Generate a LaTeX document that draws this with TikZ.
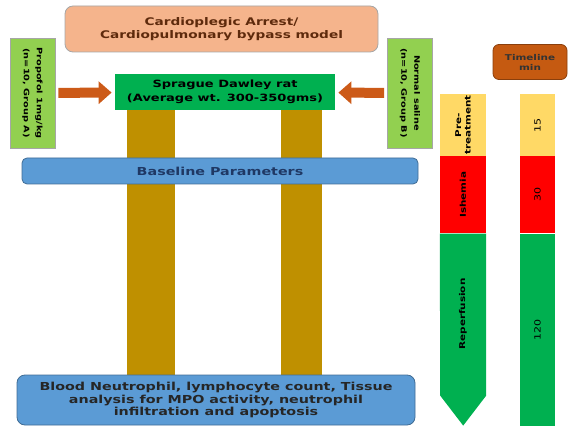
\documentclass[tikz,border=0pt]{standalone}
\usepackage{fontspec}
\setmainfont{DejaVu Sans}[FakeStretch=1.3]
\usetikzlibrary{positioning, arrows.meta}
\definecolor{peach}{HTML}{F5B48C}
\definecolor{brownText}{HTML}{5E2A0C}
\definecolor{lightGreen}{HTML}{92D050}
\definecolor{ratGreen}{HTML}{00B050}
\definecolor{arrowOrange}{HTML}{CC5A18}
\definecolor{pillarGold}{HTML}{BF9000}
\definecolor{paramBlue}{HTML}{5B9BD5}
\definecolor{navyText}{HTML}{1F3864}
\definecolor{preYellow}{HTML}{FFD966}
\definecolor{ischRed}{HTML}{FF0000}
\definecolor{tlOrange}{HTML}{C55A11}

\begin{document}
\begin{tikzpicture}[x=1pt, y=-1pt,
	box/.style={draw=gray!70, line width=0.8pt, align=center, inner sep=2pt,
		font=\bfseries\fontsize{10.5}{12.5}\selectfont},
	sidebox/.style={box, fill=lightGreen, rotate=-90, minimum width=110pt, minimum height=45pt,
		font=\bfseries\fontsize{7.5}{13}\selectfont},
	fatarrow/.style={draw=arrowOrange, line width=10pt, -{Triangle[length=13pt, width=22pt]},
		shorten <=3pt, shorten >=3pt},
	seg/.style={inner sep=0pt, minimum width=46pt},
	seglabel/.style={rotate=90, align=center, font=\bfseries\fontsize{8}{9.5}\selectfont}]
	\def\pillarTop{108}
	\def\pillarBot{378}

	\useasboundingbox (0,0) rectangle (577,427);

	\fill[pillarGold] (127,\pillarTop) rectangle (175,\pillarBot);
	\fill[pillarGold] (281,\pillarTop) rectangle (322,\pillarBot);

	\node[box, fill=peach, text=brownText, rounded corners=8pt, minimum width=313pt, minimum height=46pt]
		(model) at (221.5,29) {Cardioplegic Arrest/\\Cardiopulmonary bypass model};
	\node[box, fill=ratGreen, draw=none, minimum width=220pt, minimum height=36pt,
		font=\bfseries\fontsize{10}{13.5}\selectfont]
		(rat) at (225,92) {Sprague Dawley rat\\(Average wt. 300-350gms)};
	\node[sidebox] (propofol) at (32.5,93) {Propofol 1mg/kg\\(n=10, Group A)};
	\node[sidebox] (saline) at (410,93) {Normal saline\\(n=10, Group B)};

	\draw[fatarrow] (propofol) -- (rat);
	\draw[fatarrow] (saline) -- (rat);

	\node[box, fill=paramBlue, draw=paramBlue!70!black, text=navyText, rounded corners=5pt,
		minimum width=396pt, minimum height=26pt, font=\bfseries\fontsize{11}{13}\selectfont]
		(baseline) at (220,171) {Baseline Parameters};
	\node[box, fill=paramBlue, draw=paramBlue!70!black, text=black!85, rounded corners=8pt,
		minimum width=398pt, minimum height=50pt, font=\bfseries\fontsize{11}{12.5}\selectfont]
		(outcome) at (216,400) {Blood Neutrophil, lymphocyte count, Tissue\\analysis for MPO activity, neutrophil\\infiltration and apoptosis};

	% timeline
	\node[box, fill=tlOrange, draw=tlOrange!70!black, text=black!80, rounded corners=6pt,
		minimum width=74pt, minimum height=35pt, font=\bfseries\fontsize{8}{10}\selectfont]
		(timeline) at (530,62) {Timeline\\min};

	\node[seg, fill=preYellow, minimum height=62pt] (pre) at (463,125) {};
	\node[seg, fill=ischRed, minimum height=77pt, below=0pt of pre] (isch) {};
	\fill[ratGreen] (isch.south west) -- (isch.south east) -- ++(0,162) -- ++(-23,30) -- ++(-23,-30) -- cycle;
	\node[seglabel] (preLabel) at (pre) {Pre-\\treatment};
	\node[seglabel] (ischLabel) at (isch) {Ishemia};
	\node[seglabel] (repLabel) at (463,314) {Reperfusion};

	\node[seg, fill=preYellow, minimum width=35pt, minimum height=62pt] (preMin) at (537.5,125) {};
	\node[seg, fill=ischRed, minimum width=35pt, minimum height=77pt, below=0pt of preMin] (ischMin) {};
	\node[seg, fill=ratGreen, minimum width=35pt, minimum height=192pt, below=0pt of ischMin] (repMin) {};
	\node[seglabel, font=\fontsize{8.5}{9.5}\selectfont] at (preMin) {15};
	\node[seglabel, font=\fontsize{8.5}{9.5}\selectfont] at (ischMin) {30};
	\node[seglabel, font=\fontsize{8.5}{9.5}\selectfont] at (repMin) {120};
\end{tikzpicture}
\end{document}
